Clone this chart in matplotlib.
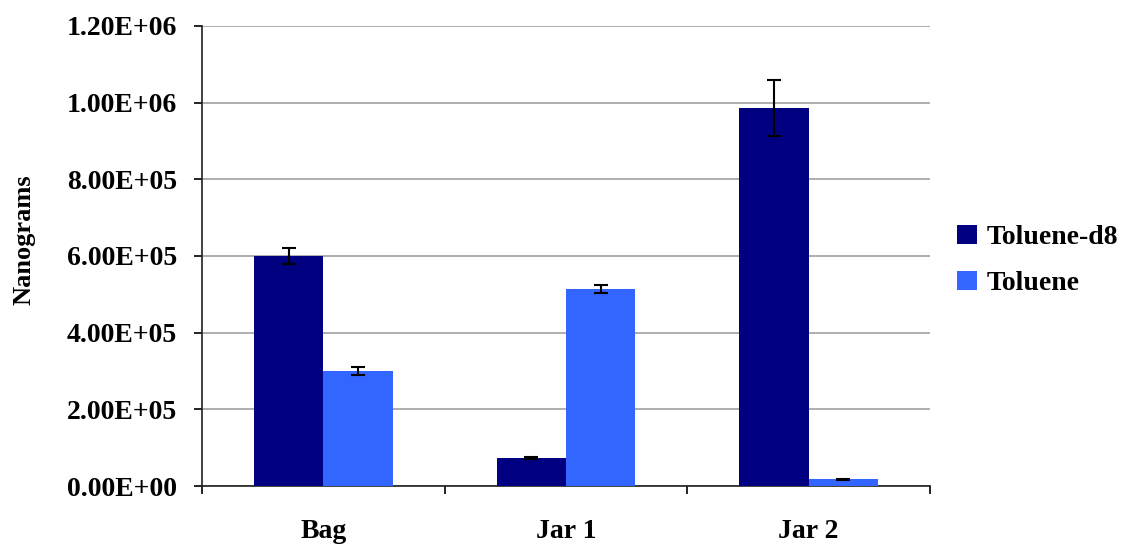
import matplotlib
matplotlib.use("Agg")
import matplotlib.pyplot as plt
import numpy as np
from matplotlib.ticker import FuncFormatter, FixedLocator

categories = ["Bag", "Jar 1", "Jar 2"]
series_names = ["Toluene-d8", "Toluene"]
toluene_d8 = [6.0e5, 7.3e4, 9.86e5]
toluene_d8_err = [2.0e4, 2.0e3, 7.3e4]
toluene = [3.0e5, 5.14e5, 1.8e4]
toluene_err = [1.0e4, 1.0e4, 1.0e3]
y_ticks = [0, 2e5, 4e5, 6e5, 8e5, 1.0e6, 1.2e6]

colors = ["#000080", "#3366FF"]

plt.rcParams["font.family"] = ["Liberation Serif", "DejaVu Serif"]
plt.rcParams["font.weight"] = "bold"

fig = plt.figure(figsize=(11.28, 5.48), dpi=100)
ax = fig.add_axes([0.179, 0.1131, 0.6455, 0.8395])

x = np.arange(len(categories))
w = 1 / 3.5
err_kw = dict(ecolor="black", elinewidth=1.5, capsize=5, capthick=1.5)
ax.bar(x - w / 2, toluene_d8, w, yerr=toluene_d8_err, color=colors[0],
       label=series_names[0], error_kw=err_kw, zorder=3)
ax.bar(x + w / 2, toluene, w, yerr=toluene_err, color=colors[1],
       label=series_names[1], error_kw=err_kw, zorder=3)

ax.set_xlim(-0.5, len(categories) - 0.5)
ax.set_ylim(0, 1.2e6)
ax.set_yticks(y_ticks)
ax.yaxis.set_major_formatter(FuncFormatter(lambda v, p: "{:.2E}".format(v)))
ax.yaxis.grid(True, color="#A0A0A0", linewidth=1.2, zorder=0)
ax.set_axisbelow(True)

ax.set_xticks(x)
ax.set_xticklabels(categories)
ax.xaxis.set_minor_locator(FixedLocator(np.arange(-0.5, len(categories), 1.0)))
ax.tick_params(axis="x", which="major", length=0, pad=24, labelsize=20)
ax.tick_params(axis="x", which="minor", length=6, width=1.2, direction="out")
ax.tick_params(axis="y", length=6, width=1.2, direction="out", pad=12,
               labelsize=20)

for s in ["top", "right"]:
    ax.spines[s].set_visible(False)
for s in ["left", "bottom"]:
    ax.spines[s].set_linewidth(1.2)
    ax.spines[s].set_color("#202020")

ax.set_ylabel("Nanograms", fontsize=19, fontweight="bold")
ax.yaxis.set_label_coords(-0.228, 0.535)

ax.legend(loc="center left", bbox_to_anchor=(1.003, 0.49), frameon=False,
          fontsize=20, handlelength=0.7, handleheight=0.7, handletextpad=0.35,
          labelspacing=0.75)

fig.savefig("out.png", dpi=100)
